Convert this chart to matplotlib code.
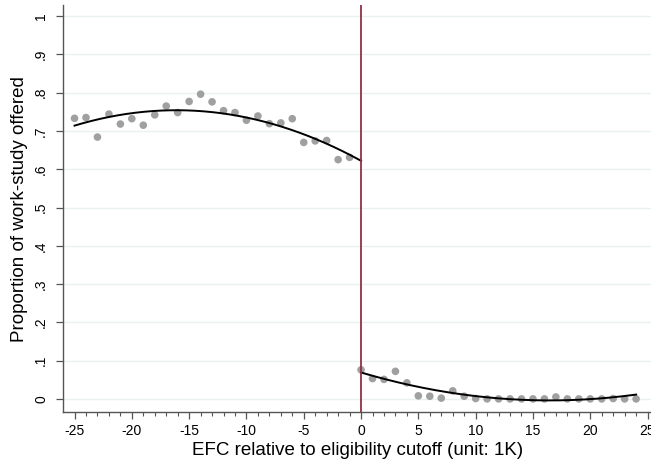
import numpy as np
import matplotlib
matplotlib.use("Agg")
import matplotlib.pyplot as plt
from matplotlib.ticker import MultipleLocator

plt.rcParams['font.family'] = ['Liberation Sans', 'DejaVu Sans']

# Binned data (left of cutoff)
x_left = list(range(-25, 0))
y_left = [0.733, 0.735, 0.684, 0.744, 0.718, 0.732, 0.715, 0.742, 0.765, 0.748,
          0.777, 0.796, 0.776, 0.753, 0.748, 0.728, 0.739, 0.719, 0.721, 0.732,
          0.670, 0.674, 0.675, 0.625, 0.631]
# Binned data (right of cutoff)
x_right = list(range(0, 25))
y_right = [0.076, 0.053, 0.051, 0.072, 0.042, 0.008, 0.007, 0.002, 0.021, 0.007,
           0.001, 0.0, 0.0, 0.0, 0.0, 0.0, 0.0, 0.005, 0.0, 0.0,
           0.0, 0.0, 0.001, 0.0, 0.0]

# Quadratic fit coefficients (a, b, c)
fit_left_coef = [-0.000509, -0.0164, 0.622]
fit_right_coef = [0.000269, -0.00886, 0.069]
fit_left_range = (-25, 0)
fit_right_range = (0, 24)

y_ticks = [0, 0.1, 0.2, 0.3, 0.4, 0.5, 0.6, 0.7, 0.8, 0.9, 1.0]
y_ticklabels = ['0', '.1', '.2', '.3', '.4', '.5', '.6', '.7', '.8', '.9', '1']
x_ticks = [-25, -20, -15, -10, -5, 0, 5, 10, 15, 20, 25]

fig = plt.figure(figsize=(6.51, 4.68), dpi=100)
ax = fig.add_axes([63.3/651, 1-412.3/468, 1-63.3/651, (412.3-5)/468])

for yt in y_ticks:
    ax.axhline(yt, color='#eaf1f3', lw=1.0, zorder=0)

ax.scatter(x_left, y_left, s=30, color='#a0a0a0', edgecolors='none', zorder=2)
ax.scatter(x_right, y_right, s=30, color='#a0a0a0', edgecolors='none', zorder=2)

xl = np.linspace(*fit_left_range, 200)
ax.plot(xl, np.polyval(fit_left_coef, xl), color='black', lw=1.4, zorder=3)
xr = np.linspace(*fit_right_range, 200)
ax.plot(xr, np.polyval(fit_right_coef, xr), color='black', lw=1.4, zorder=3)

ax.axvline(0, color='#8e3342', lw=1.3, zorder=4)

ax.set_xlim(-25.98, 25.3)
ax.set_ylim(-0.035, 1.029)

ax.set_xticks(x_ticks)
ax.set_xticklabels([str(v) for v in x_ticks], fontsize=10)
ax.xaxis.set_minor_locator(MultipleLocator(1))
ax.set_yticks(y_ticks)
ax.set_yticklabels(y_ticklabels, fontsize=10, rotation=90, va='center')

ax.tick_params(axis='both', which='major', direction='out', length=5, width=0.9, color='#555555')
ax.tick_params(axis='x', which='minor', direction='out', length=3, width=0.8, color='#555555')
ax.tick_params(axis='x', pad=3.5)
ax.tick_params(axis='y', pad=6)

for s in ['top', 'right']:
    ax.spines[s].set_visible(False)
for s in ['left', 'bottom']:
    ax.spines[s].set_color('#555555')
    ax.spines[s].set_linewidth(1.0)

ax.set_xlabel('EFC relative to eligibility cutoff (unit: 1K)', fontsize=13.5, labelpad=3)
ax.set_ylabel('Proportion of work-study offered', fontsize=13.5, labelpad=4)

fig.savefig('out.png', dpi=100)
